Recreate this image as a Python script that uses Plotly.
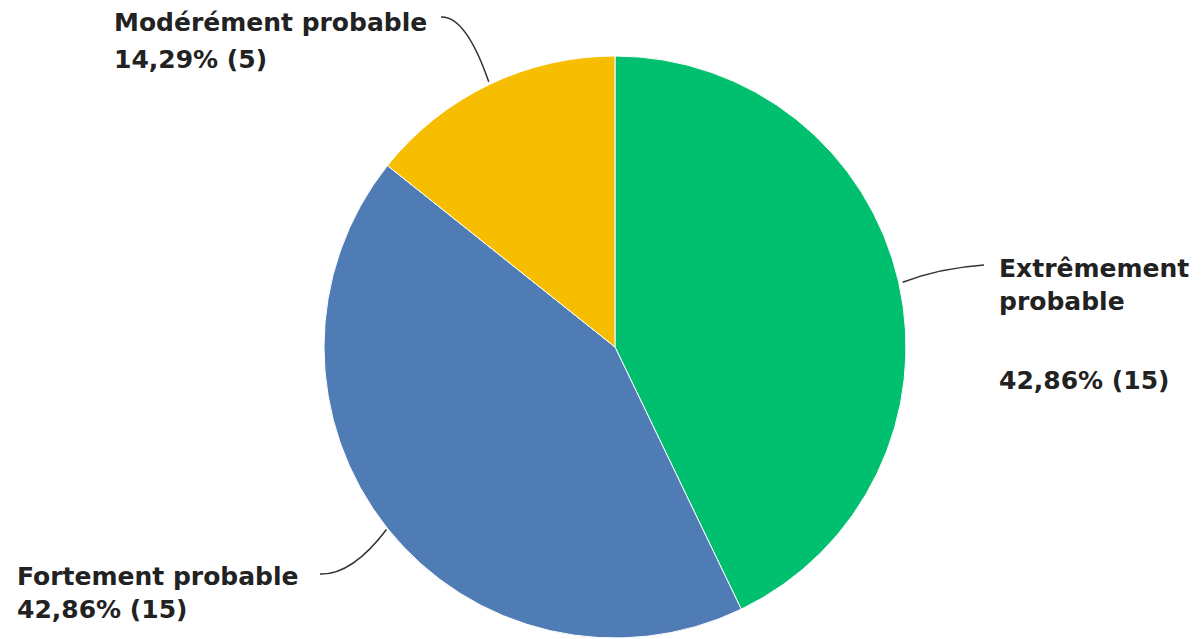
import math
import plotly.graph_objects as go

labels = ["Extrêmement probable", "Fortement probable", "Modérément probable"]
counts = [15, 15, 5]
colors = ["#00BF6F", "#507CB6", "#F7BD00"]

W, H = 1201, 639
cx, cy, r = 615, 347, 291

fig = go.Figure(go.Pie(
    labels=labels, values=counts, sort=False, direction="clockwise", rotation=0,
    marker=dict(colors=colors, line=dict(color="white", width=1)),
    textinfo="none", hoverinfo="label+percent+value", showlegend=False,
    domain=dict(x=[(cx - r) / W, (cx + r) / W], y=[1 - (cy + r) / H, 1 - (cy - r) / H]),
))

def px(x, y):
    return x / W, 1 - y / H

total = sum(counts)
pct = [f"{c / total * 100:.2f}".replace(".", ",") + f"% ({c})" for c in counts]

# anchors on the pie edge at slice midpoints
anchors = []
acc = 0
for c in counts:
    mid = (acc + c / 2) / total * 360
    acc += c
    a = math.radians(mid)
    anchors.append((cx + r * math.sin(a), cy - r * math.cos(a)))

font = dict(family="DejaVu Sans", size=25, color="#222222", weight="bold")
ann = []
def text(t, x, y):
    X, Y = px(x, y)
    ann.append(dict(text=t, x=X, y=Y, xref="paper", yref="paper", xanchor="left",
                    yanchor="middle", showarrow=False, font=font))

text("Extrêmement", 997, 268)
text("probable", 997, 302)
text(pct[0], 997, 381)
text("Fortement probable", 15, 576)
text(pct[1], 15, 609)
text("Modérément probable", 112, 22)
text(pct[2], 112, 59)

def path(pts):
    (x0, y0), (qx, qy), (x1, y1) = pts
    a = px(x0, y0); b = px(qx, qy); c = px(x1, y1)
    return f"M {a[0]},{a[1]} Q {b[0]},{b[1]} {c[0]},{c[1]}"

ax0, ay0 = anchors[0]
ax1, ay1 = anchors[1]
ax2, ay2 = anchors[2]
shapes = [
    dict(type="path", xref="paper", yref="paper", path=path([(ax0 + 4, ay0), (940, 268), (984, 265)]),
         line=dict(color="#333333", width=1.5)),
    dict(type="path", xref="paper", yref="paper", path=path([(320, 574), (352, 575), (ax1 - 1, ay1 + 1)]),
         line=dict(color="#333333", width=1.5)),
    dict(type="path", xref="paper", yref="paper", path=path([(441, 17), (466, 16), (ax2, ay2 - 3)]),
         line=dict(color="#333333", width=1.5)),
]

fig.update_layout(width=W, height=H, margin=dict(l=0, r=0, t=0, b=0),
                  paper_bgcolor="white", plot_bgcolor="white",
                  annotations=ann, shapes=shapes)
fig.write_html("out.html", config={"displayModeBar": False},
               post_script="document.body.style.margin='0';")
